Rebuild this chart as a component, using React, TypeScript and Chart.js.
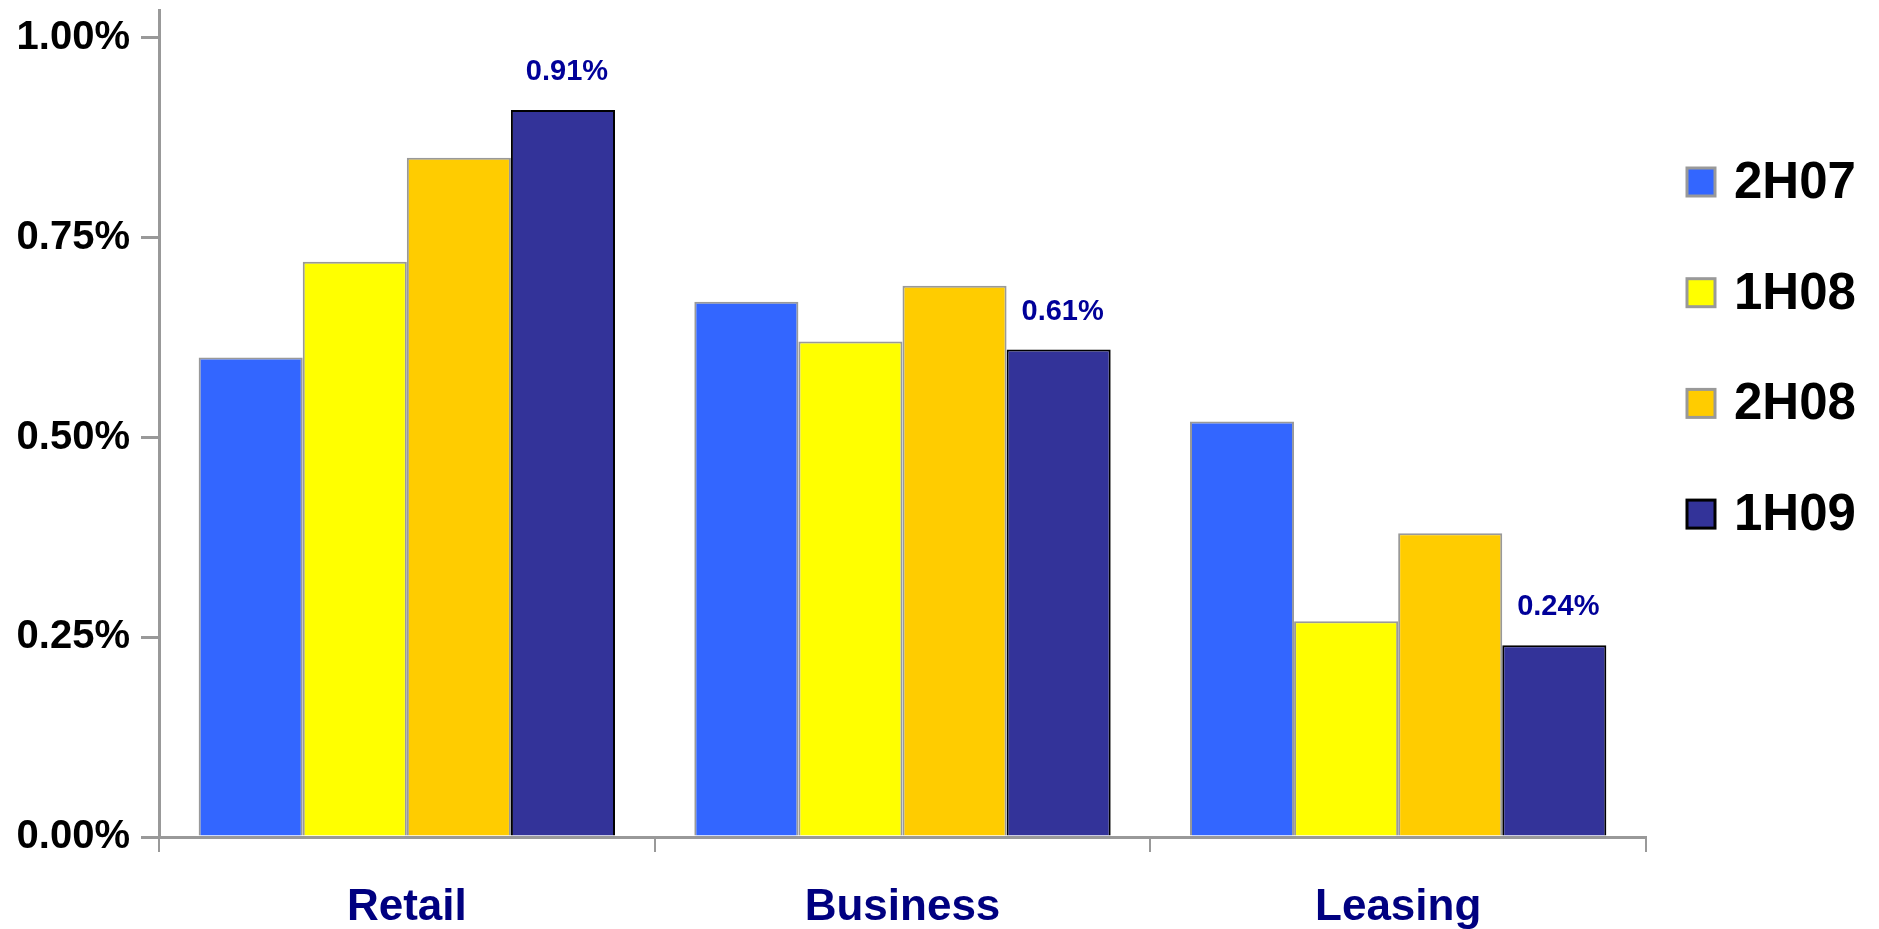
import React, { useEffect, useRef } from 'react';
import { Chart, registerables } from 'chart.js';

Chart.register(...registerables);

const categories = ['Retail', 'Business', 'Leasing'];
const seriesNames = ['2H07', '1H08', '2H08', '1H09'];
const values2H07 = [0.6, 0.67, 0.52];
const values1H08 = [0.72, 0.62, 0.27];
const values2H08 = [0.85, 0.69, 0.38];
const values1H09 = [0.91, 0.61, 0.24];
const yTickValues = [0, 0.25, 0.5, 0.75, 1.0];

const FONT = '"Liberation Sans", Arial, sans-serif';

const legendPlugin = {
  id: 'sideLegend',
  afterDraw(chart: any) {
    const { ctx, chartArea } = chart;
    ctx.save();
    chart.data.datasets.forEach((ds: any, i: number) => {
      const cy = chartArea.top + 172 + i * 110.7;
      const bx = chartArea.right + 41;
      const size = 28;
      ctx.fillStyle = ds.backgroundColor;
      ctx.fillRect(bx, cy - size / 2, size, size);
      ctx.lineWidth = 3;
      ctx.strokeStyle = ds.borderColor;
      ctx.strokeRect(bx, cy - size / 2, size, size);
      ctx.font = `bold 51px ${FONT}`;
      ctx.fillStyle = '#000000';
      ctx.textBaseline = 'middle';
      ctx.textAlign = 'left';
      ctx.fillText(ds.label, bx + 47, cy + 2);
    });
    ctx.restore();
  },
};

const valueLabelPlugin = {
  id: 'valueLabels',
  afterDatasetsDraw(chart: any) {
    const { ctx } = chart;
    const idx = chart.data.datasets.length - 1;
    const meta = chart.getDatasetMeta(idx);
    const data = chart.data.datasets[idx].data as number[];
    ctx.save();
    ctx.font = `bold 29px ${FONT}`;
    ctx.fillStyle = '#000099';
    ctx.textAlign = 'center';
    ctx.textBaseline = 'middle';
    meta.data.forEach((el: any, i: number) => {
      ctx.fillText(data[i].toFixed(2) + '%', el.x + 4, el.y - 38);
    });
    ctx.restore();
  },
};

export default function App() {
  const ref = useRef<HTMLCanvasElement>(null);

  useEffect(() => {
    if (!ref.current) return;
    const mk = (label: string, data: number[], bg: string, border: string) => ({
      label,
      data,
      backgroundColor: bg,
      borderColor: border,
      borderWidth: 2,
      borderSkipped: 'bottom' as const,
    });
    const chart = new Chart(ref.current, {
      type: 'bar',
      data: {
        labels: categories,
        datasets: [
          mk(seriesNames[0], values2H07, '#3366FF', '#999999'),
          mk(seriesNames[1], values1H08, '#FFFF00', '#999999'),
          mk(seriesNames[2], values2H08, '#FFCC00', '#999999'),
          mk(seriesNames[3], values1H09, '#333399', '#000000'),
        ],
      },
      options: {
        responsive: false,
        animation: false,
        devicePixelRatio: 1,
        layout: { padding: { top: 10, right: 233, bottom: 0, left: 0 } },
        plugins: {
          legend: { display: false },
          tooltip: { enabled: false },
        },
        datasets: { bar: { categoryPercentage: 0.84, barPercentage: 1.0 } },
        scales: {
          x: {
            grid: {
              offset: true,
              drawOnChartArea: false,
              drawTicks: true,
              tickLength: 15,
              color: '#999999',
              lineWidth: 2,
            },
            border: { display: true, color: '#999999', width: 3 },
            ticks: {
              color: '#000080',
              font: { family: FONT, size: 44, weight: 'bold' },
              padding: 29,
            },
            afterFit(scale: any) {
              scale.height = 92;
              scale.paddingLeft = 0;
              scale.paddingRight = 0;
            },
          },
          y: {
            min: 0,
            max: 1.035,
            afterBuildTicks(scale: any) {
              scale.ticks = yTickValues.map((v) => ({ value: v }));
            },
            grid: {
              drawOnChartArea: false,
              drawTicks: true,
              tickLength: 18,
              color: '#999999',
              lineWidth: 3,
            },
            border: { display: true, color: '#999999', width: 3 },
            ticks: {
              color: '#000000',
              font: { family: FONT, size: 40, weight: 'bold' },
              padding: 11,
              callback: (v: any) => Number(v).toFixed(2) + '%',
            },
            afterFit(scale: any) {
              scale.width = 159;
              scale.paddingTop = 0;
              scale.paddingBottom = 0;
            },
          },
        },
      },
      plugins: [legendPlugin, valueLabelPlugin],
    });
    return () => chart.destroy();
  }, []);

  return (
    <div style={{ position: 'fixed', left: 0, top: 0, width: 1879, height: 929, background: '#ffffff' }}>
      <canvas ref={ref} width={1879} height={929} style={{ display: 'block' }} />
    </div>
  );
}
